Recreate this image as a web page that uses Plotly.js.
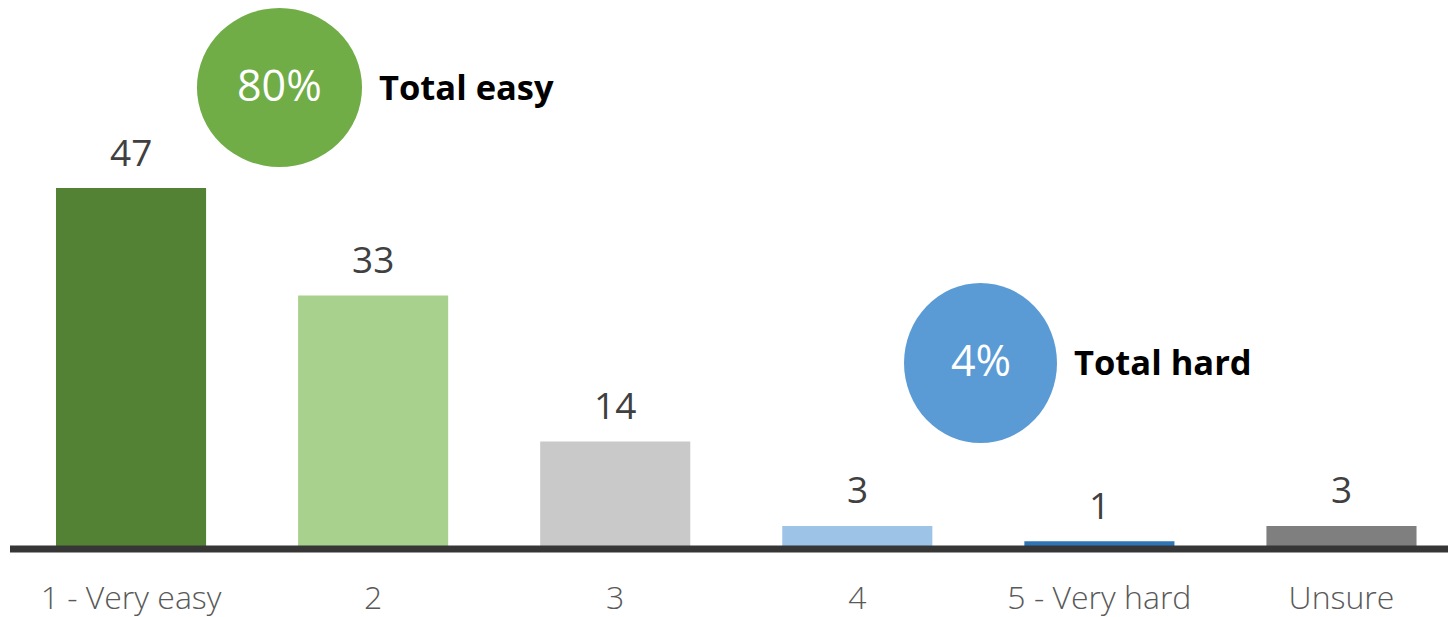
<!DOCTYPE html>
<html>
<head>
<meta charset="utf-8">
<script src="https://cdn.plot.ly/plotly-3.0.1.min.js"></script>
<style>html,body{margin:0;padding:0;background:#fff;}#chart{width:1448px;height:617px;}</style>
</head>
<body>
<div id="chart"></div>
<script>
const categories = ["1 - Very easy", "2", "3", "4", "5 - Very hard", "Unsure"];
const values = [47, 33, 14, 3, 1, 3];
const barColors = ["#548235", "#A9D18E", "#C9C9C9", "#9DC3E6", "#2E75B6", "#7F7F7F"];
const summaryValues = ["80%", "4%"];
const summaryLabels = ["Total easy", "Total hard"];

const FONT = "Open Sans, Noto Sans, sans-serif";

const trace = {
  type: "bar",
  x: categories,
  y: values,
  width: 0.62,
  marker: { color: barColors, line: { width: 0 } },
  hoverinfo: "none"
};

const valueAnnotations = categories.map((c, i) => ({
  x: i, y: values[i], xref: "x", yref: "y",
  text: String(values[i]), showarrow: false,
  xanchor: "center", yanchor: "middle", yshift: 37,
  font: { family: FONT, size: 37, color: "#404040" }
}));

const circles = [
  { x0: 0.1300, x1: 0.2448, y0: 0.6958, y1: 0.9854, color: "#70AD47" },
  { x0: 0.6217, x1: 0.7281, y0: 0.1931, y1: 0.4845, color: "#5B9BD5" }
];

const shapes = circles.map(c => ({
  type: "circle", xref: "paper", yref: "paper",
  x0: c.x0, x1: c.x1, y0: c.y0, y1: c.y1,
  fillcolor: c.color, line: { width: 0 }, layer: "above"
}));
// baseline (y = 0 is the bottom of the plot area)
shapes.push({
  type: "line", xref: "paper", yref: "paper", x0: 0, x1: 1, y0: 0, y1: 0,
  line: { color: "#363636", width: 7 }, layer: "above"
});

const summaryAnnotations = [];
circles.forEach((c, i) => {
  summaryAnnotations.push({
    xref: "paper", yref: "paper", x: (c.x0 + c.x1) / 2, y: (c.y0 + c.y1) / 2,
    text: summaryValues[i], showarrow: false, xanchor: "center", yanchor: "middle",
    yshift: 3,
    font: { family: FONT, size: 43, color: "#FFFFFF" }
  });
  summaryAnnotations.push({
    xref: "paper", yref: "paper", x: c.x1 + 0.0105, y: (c.y0 + c.y1) / 2,
    text: "<b>" + summaryLabels[i] + "</b>", showarrow: false, xanchor: "left", yanchor: "middle",
    yshift: 1,
    font: { family: FONT, size: 34.5, color: "#000000" }
  });
});

const layout = {
  width: 1448, height: 617,
  margin: { l: 10, r: 0, t: 0, b: 68, pad: 0 },
  paper_bgcolor: "#FFFFFF", plot_bgcolor: "#FFFFFF",
  showlegend: false,
  bargap: 0.38,
  xaxis: {
    type: "category", range: [-0.5, 5.44],
    showgrid: false, zeroline: false, showline: false,
    ticks: "", ticklabelstandoff: 27,
    tickfont: { family: FONT, size: 32, color: "#595959", weight: 300 },
    fixedrange: true
  },
  yaxis: {
    range: [0, 71.5], visible: false, showgrid: false, zeroline: false, fixedrange: true
  },
  shapes: shapes,
  annotations: valueAnnotations.concat(summaryAnnotations)
};

Plotly.newPlot("chart", [trace], layout, { displayModeBar: false, staticPlot: true });
</script>
</body>
</html>
